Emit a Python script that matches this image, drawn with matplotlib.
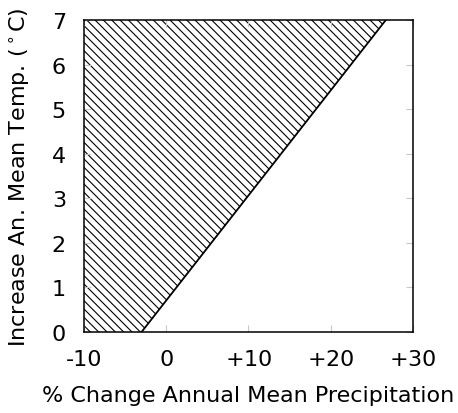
import matplotlib
matplotlib.use('Agg')
import matplotlib.pyplot as plt

# boundary line of the hatched region
line_x = [-3, 26.7]
line_y = [0, 7]
x_ticks = [-10, 0, 10, 20, 30]
x_ticklabels = ['-10', '$0$', '$+10$', '$+20$', '$+30$']
y_ticks = [0, 1, 2, 3, 4, 5, 6, 7]

plt.rcParams['font.family'] = ['DejaVu Sans']
plt.rcParams['mathtext.fontset'] = 'dejavusans'
plt.rcParams['hatch.linewidth'] = 0.8

fig = plt.figure(figsize=(4.58, 4.14), dpi=100)
ax = fig.add_axes([0.1834, 0.1957, 0.7183, 0.7536])

xmin, xmax = -10, 30
ymin, ymax = 0, 7
poly_x = [xmin, line_x[0], line_x[1], xmin]
poly_y = [ymin, line_y[0], line_y[1], ymax]
ax.fill(poly_x, poly_y, facecolor='white', edgecolor='black', hatch='\\\\\\\\', linewidth=0)
ax.plot(line_x, line_y, color='black', linewidth=1.3)

ax.set_xlim(xmin, xmax)
ax.set_ylim(ymin, ymax)
ax.set_xticks(x_ticks)
ax.set_xticklabels(x_ticklabels)
ax.set_yticks(y_ticks)
ax.tick_params(direction='in', length=5, color='#c8c8c8', width=0.8,
               top=True, right=True, labelsize=16)
ax.tick_params(axis='x', pad=12)
ax.tick_params(axis='y', pad=13)
for s in ax.spines.values():
    s.set_linewidth(1.1)

ax.set_xlabel('% Change Annual Mean Precipitation', fontsize=16, labelpad=12)
ax.set_ylabel(r'Increase An. Mean Temp. ($^\circ$C)', fontsize=16, labelpad=14)

fig.savefig('out.png', dpi=100)
